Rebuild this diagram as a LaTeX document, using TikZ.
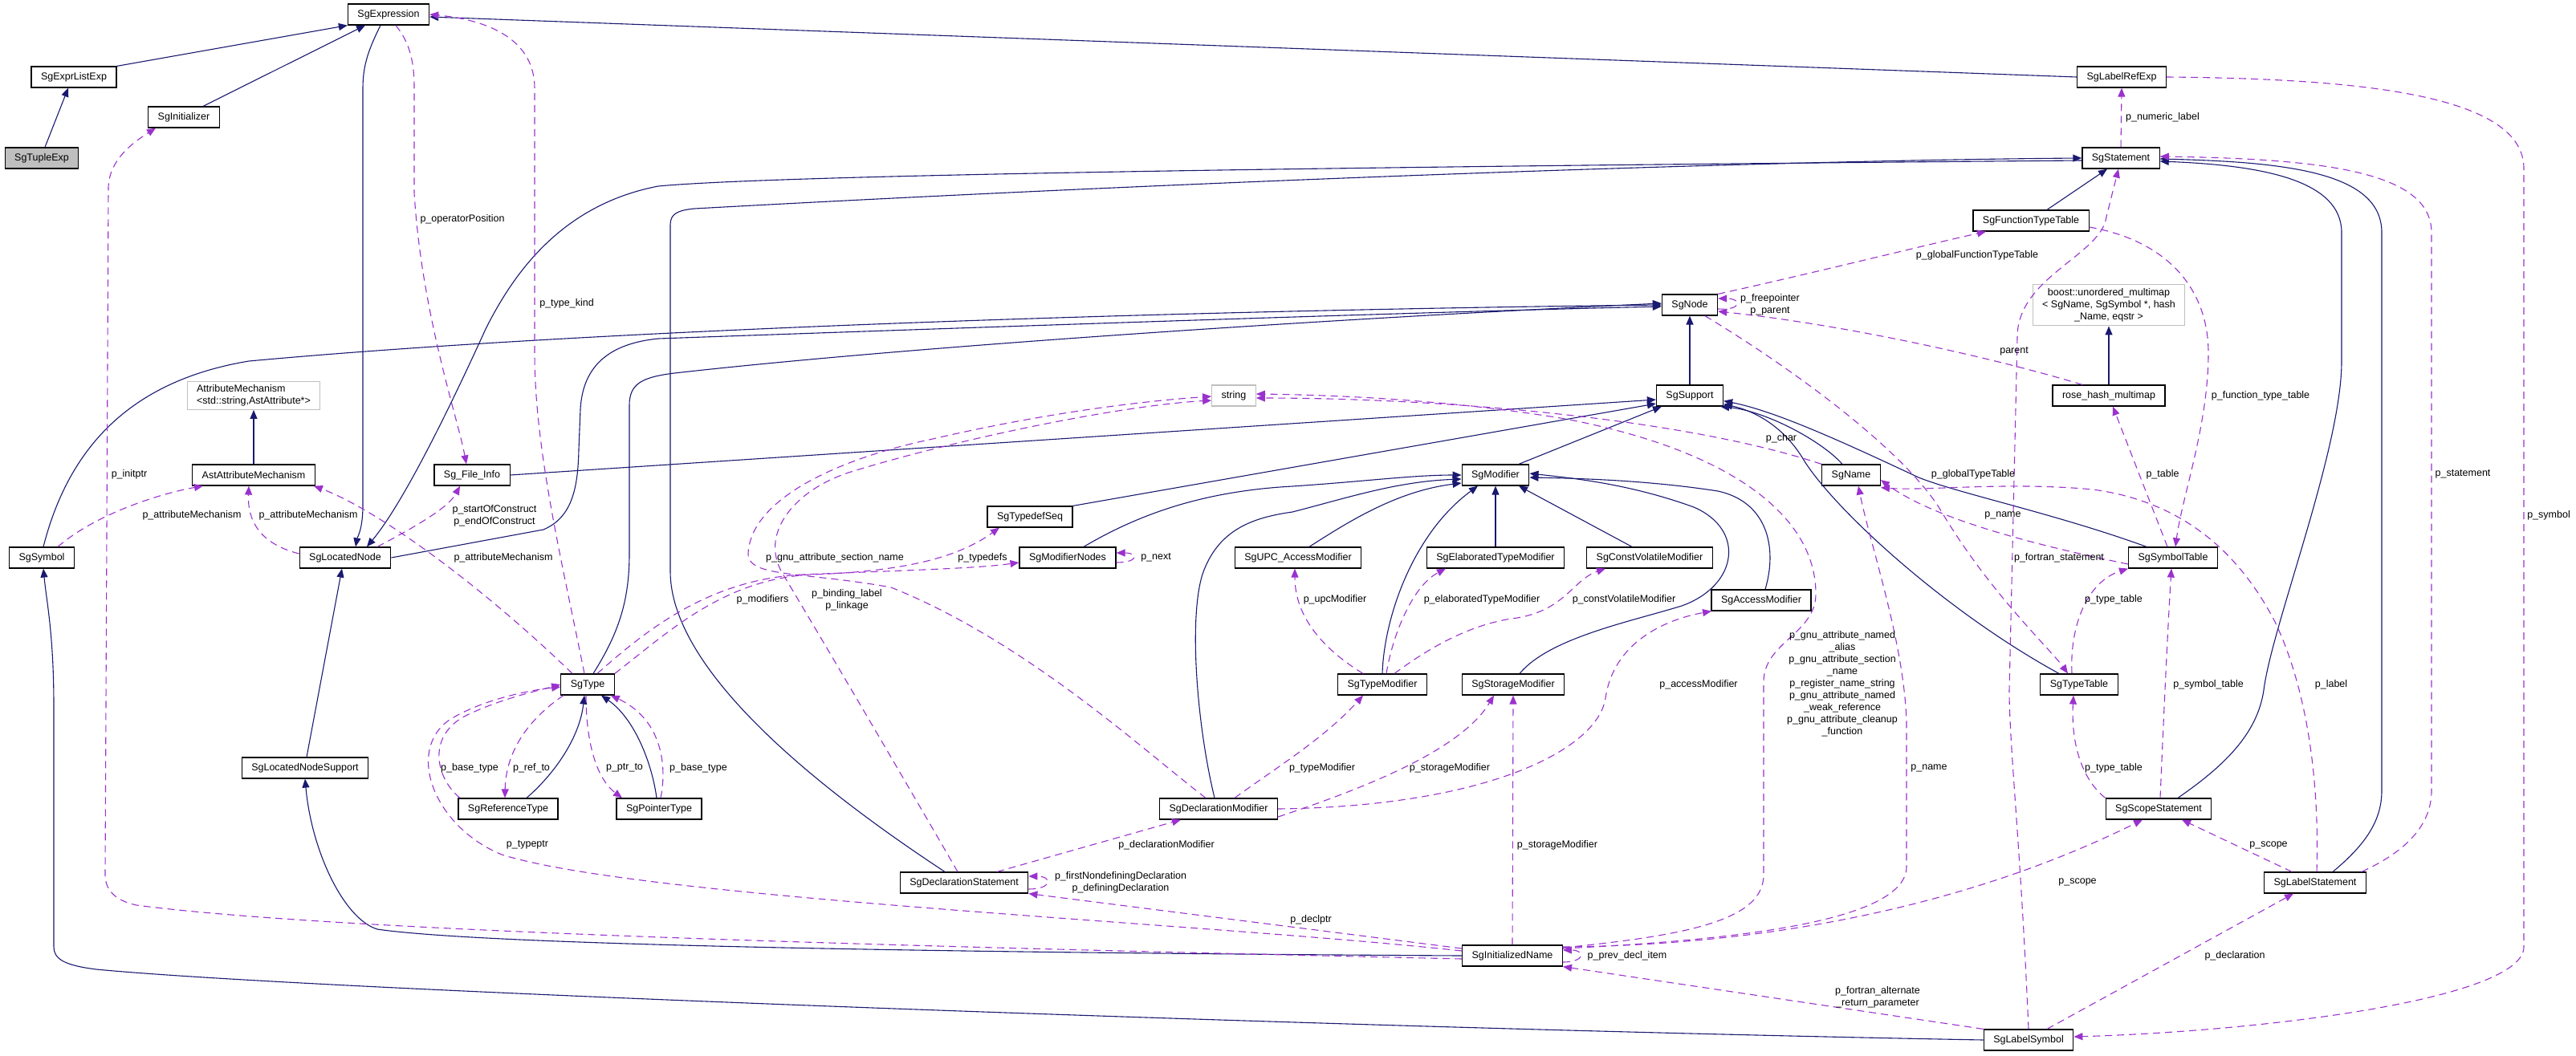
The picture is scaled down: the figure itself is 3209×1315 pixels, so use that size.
\documentclass[tikz,border=0pt]{standalone}
\usepackage{fontspec}
\setmainfont{Liberation Sans}
\usetikzlibrary{arrows.meta}
\definecolor{inhcol}{HTML}{191970}
\definecolor{refcol}{HTML}{9A32CD}
\definecolor{extgray}{HTML}{BFBFBF}

\begin{document}
\begin{tikzpicture}[x=1pt, y=-1pt, >={Triangle[length=11pt,width=9pt]},
  cls/.style={draw=black, line width=1.2pt, fill=white, minimum height=26pt,
    inner xsep=12pt, inner ysep=2pt, font=\fontsize{12.5}{15}\selectfont},
  ext/.style={cls, draw=extgray, align=center},
  inh/.style={draw=inhcol, line width=1.1pt, ->},
  ref/.style={draw=refcol, line width=1.1pt, dash pattern=on 9pt off 6pt, ->},
  lbl/.style={font=\fontsize{12.5}{15}\selectfont, inner sep=0pt, align=center}]

\useasboundingbox (0,0) rectangle (3209,1315);

% Classes
\node[cls] (expression) at (484,18) {SgExpression};
\node[cls] (exprlist) at (92,96) {SgExprListExp};
\node[cls] (initializer) at (229,146) {SgInitializer};
\node[cls, fill=extgray] (tuple) at (52,197) {SgTupleExp};
\node[cls] (labelref) at (2643,96) {SgLabelRefExp};
\node[cls] (statement) at (2642,197) {SgStatement};
\node[cls] (functable) at (2530,275) {SgFunctionTypeTable};
\node[ext, inner ysep=5pt] (boostmap) at (2627,380) {boost::unordered\_multimap\\< SgName, SgSymbol *, hash\\\_Name, eqstr >};
\node[cls] (sgnode) at (2105,380) {SgNode};
\node[ext, align=left, inner ysep=4pt] (attrmech) at (316,493) {AttributeMechanism\\<std::string,AstAttribute*>};
\node[cls] (astattr) at (316,592) {AstAttributeMechanism};
\node[cls] (fileinfo) at (588,592) {Sg\_File\_Info};
\node[cls] (symbol) at (52,695) {SgSymbol};
\node[cls] (located) at (430,695) {SgLocatedNode};
\node[cls] (sgtype) at (732,853) {SgType};
\node[ext] (sgstring) at (1537,493) {string};
\node[cls] (typedefseq) at (1283,644) {SgTypedefSeq};
\node[cls] (modnodes) at (1330,695) {SgModifierNodes};
\node[cls] (upcmod) at (1617,695) {SgUPC\_AccessModifier};
\node[cls] (support) at (2105,493) {SgSupport};
\node[cls] (modifier) at (1863,592) {SgModifier};
\node[cls] (sgname) at (2306,592) {SgName};
\node[cls] (elabmod) at (1863,695) {SgElaboratedTypeModifier};
\node[cls] (cvmod) at (2055,695) {SgConstVolatileModifier};
\node[cls] (accessmod) at (2194,748) {SgAccessModifier};
\node[cls] (typemod) at (1722,853) {SgTypeModifier};
\node[cls] (storagemod) at (1885,853) {SgStorageModifier};
\node[cls] (rosemap) at (2627,493) {rose\_hash\_multimap};
\node[cls] (symtable) at (2707,695) {SgSymbolTable};
\node[cls] (typetable) at (2590,853) {SgTypeTable};
\node[cls] (locsupport) at (380,957) {SgLocatedNodeSupport};
\node[cls] (reftype) at (633,1008) {SgReferenceType};
\node[cls] (ptrtype) at (821,1008) {SgPointerType};
\node[cls] (declstmt) at (1201,1100) {SgDeclarationStatement};
\node[cls] (declmod) at (1518,1008) {SgDeclarationModifier};
\node[cls] (initname) at (1884,1191) {SgInitializedName};
\node[cls] (scopestmt) at (2689,1008) {SgScopeStatement};
\node[cls] (labelstmt) at (2884,1100) {SgLabelStatement};
\node[cls] (labelsym) at (2527,1296) {SgLabelSymbol};

% Inheritance
\draw[inh] ([xshift=4pt]tuple.north) -- ([xshift=-7pt]exprlist.south);
\draw[inh] (exprlist.north east) -- (expression.south west);
\draw[inh] ([xshift=24pt]initializer.north) -- ([xshift=-29pt]expression.south);
\draw[inh] (labelref.west) -- ([yshift=-3pt]expression.east);
\draw[inh] ([xshift=-10pt]expression.south) .. controls (460,60) and (452,80) .. (452,110)
  -- (452,630) .. controls (452,660) and (445,670) .. ([xshift=13pt]located.north);
\draw[inh] ([yshift=-3pt]statement.west) .. controls (2000,205) and (1000,215) .. (820,232)
  .. controls (700,255) and (640,340) .. (605,410) .. controls (555,520) and (500,630) .. ([xshift=27pt]located.north);
\draw[inh] ([xshift=-24pt]declstmt.north) .. controls (1000,970) and (836,830) .. (835,713)
  -- (835,280) .. controls (835,266) and (845,262) .. (865,260) .. controls (1500,225) and (2200,200) .. (statement.west);
\draw[inh] (located.east) -- (677,660) .. controls (712,645) and (720,610) .. (721,560)
  -- (723,510) .. controls (726,455) and (760,428) .. (820,422) .. controls (1300,405) and (1800,388) .. ([yshift=-2pt]sgnode.west);
\draw[inh] ([xshift=2pt]symbol.north) .. controls (85,560) and (160,475) .. (310,450)
  .. controls (800,405) and (1600,385) .. (sgnode.west);
\draw[inh] ([xshift=7pt]sgtype.north) .. controls (770,790) and (784,750) .. (784,690)
  -- (784,505) .. controls (784,478) and (800,470) .. (840,465) .. controls (1150,430) and (1700,395) .. ([yshift=2pt]sgnode.west);
\draw[inh] (support.north) -- (sgnode.south);
\draw[inh] (astattr.north) -- (attrmech.south);
\draw[inh] ([xshift=2pt]locsupport.north) -- ([xshift=-4pt]located.south);
\draw[inh] (initname.west) .. controls (1300,1188) and (620,1180) .. (470,1158)
  .. controls (428,1145) and (388,1060) .. (locsupport.south);
\draw[inh] (fileinfo.east) -- ([yshift=-5pt]support.west);
\draw[inh] (typedefseq.north east) -- ([yshift=-10pt]support.west);
\draw[inh] ([xshift=20pt]modnodes.north) .. controls (1420,640) and (1500,612) .. (1610,606)
  .. controls (1700,600) and (1760,592) .. (modifier.west);
\draw[inh] ([xshift=-5pt]declmod.north) .. controls (1490,900) and (1480,760) .. (1500,710)
  .. controls (1520,660) and (1560,645) .. (1610,638) .. controls (1680,620) and (1740,600) .. ([yshift=-5pt]modifier.west);
\draw[inh] ([xshift=14pt]upcmod.north) .. controls (1680,650) and (1740,612) .. ([yshift=-10pt]modifier.west);
\draw[inh] ([xshift=29pt]modifier.north) -- ([xshift=-35pt]support.south);
\draw[inh] ([xshift=-11pt]sgname.north) .. controls (2270,550) and (2200,512) .. ([xshift=-4pt]support.south east);
\draw[inh] ([xshift=-25pt]typetable.north) .. controls (2420,760) and (2280,630) .. (2245,570)
  .. controls (2220,530) and (2185,512) .. ([yshift=3pt]support.south east);
\draw[inh] ([xshift=-33pt]symtable.north) .. controls (2560,640) and (2440,615) .. (2390,595)
  .. controls (2290,548) and (2210,512) .. ([yshift=7pt]support.south east);
\draw[inh] ([xshift=20pt]functable.north) -- ([xshift=-17pt]statement.south);
\draw[inh] ([xshift=24pt]scopestmt.north) .. controls (2770,955) and (2812,915) .. (2820,860)
  .. controls (2830,780) and (2917,560) .. (2917,450) -- (2917,290)
  .. controls (2917,225) and (2820,206) .. ([yshift=-4pt]statement.east);
\draw[inh] ([xshift=22pt]labelstmt.north) .. controls (2950,1050) and (2967,1020) .. (2967,985)
  -- (2967,290) .. controls (2967,215) and (2850,202) .. ([yshift=-1pt]statement.east);
\draw[inh] (rosemap.north) -- (boostmap.south);
\draw[inh] (elabmod.north) -- (modifier.south);
\draw[inh] ([xshift=-22pt]cvmod.north) -- ([xshift=29pt]modifier.south);
\draw[inh] (typemod.north) .. controls (1724,770) and (1760,665) .. ([xshift=-22pt]modifier.south);
\draw[inh] ([xshift=8pt]storagemod.north) .. controls (1930,795) and (2030,775) .. (2095,755)
  .. controls (2165,730) and (2175,660) .. (2110,632) .. controls (2030,603) and (1960,596) .. ([yshift=2pt]modifier.east);
\draw[inh] ([xshift=5pt]accessmod.north) .. controls (2215,680) and (2200,625) .. (2140,612)
  .. controls (2050,598) and (1960,596) .. ([yshift=-3pt]modifier.east);
\draw[inh] ([xshift=23pt]reftype.north) .. controls (690,965) and (722,920) .. ([xshift=-4pt]sgtype.south);
\draw[inh] ([xshift=-3pt]ptrtype.north) .. controls (812,950) and (790,895) .. ([xshift=17pt]sgtype.south);
\draw[inh] (labelsym.west) .. controls (1700,1282) and (400,1235) .. (120,1208)
  .. controls (80,1203) and (67,1195) .. (67,1180) -- (67,880)
  .. controls (67,790) and (58,750) .. ([xshift=2pt]symbol.south);

% Members
\draw[ref] ([yshift=-4pt]initname.west) .. controls (1300,1183) and (450,1165) .. (170,1128)
  .. controls (142,1122) and (131,1108) .. (131,1090) -- (135,235)
  .. controls (135,200) and (165,178) .. ([xshift=-35pt]initializer.south);
\draw[ref] ([xshift=9pt]expression.south) .. controls (512,55) and (516,80) .. (516,110)
  -- (516,240) .. controls (525,390) and (570,520) .. ([xshift=-7pt]fileinfo.north);
\draw[ref] ([xshift=-4pt]sgtype.north) .. controls (700,700) and (666,560) .. (666,440)
  -- (666,110) .. controls (666,50) and (610,25) .. (expression.east);
\draw[ref] ([xshift=20pt]symbol.north) .. controls (120,640) and (200,615) .. ([xshift=-63pt]astattr.south);
\draw[ref] ([yshift=5pt]located.west) .. controls (325,678) and (308,650) .. ([xshift=-6pt]astattr.south);
\draw[ref] ([xshift=-19pt]sgtype.north) .. controls (600,730) and (470,635) .. ([xshift=-2pt]astattr.south east);
\draw[ref] ([xshift=40pt]located.north) .. controls (530,650) and (560,630) .. ([xshift=-15pt]fileinfo.south);
\draw[ref] ([yshift=-5pt]sgnode.east) .. controls +(30,2) and +(30,0) .. ([yshift=8pt]sgnode.east);
\draw[ref] ([xshift=-33pt]rosemap.north) .. controls (2480,445) and (2300,405) .. ([yshift=-8pt]sgnode.east);
\draw[ref] (sgnode.north east) .. controls (2260,340) and (2400,305) .. ([xshift=-56pt]functable.south);
\draw[ref] (statement.north) -- (labelref.south);
\draw[ref] ([xshift=58pt]labelstmt.north) .. controls (2995,1062) and (3029,1030) .. (3029,985)
  -- (3029,290) .. controls (3029,215) and (2900,198) .. ([yshift=2pt]statement.east);
\draw[ref] (labelref.east) .. controls (2950,98) and (3144,120) .. (3144,210)
  -- (3144,1180) .. controls (3144,1245) and (2820,1285) .. ([yshift=4pt]labelsym.east);
\draw[ref] (labelsym.north) .. controls (2517,1050) and (2503,930) .. (2503,860)
  -- (2513,420) .. controls (2513,345) and (2618,318) .. (2624,270) -- ([xshift=-3pt]statement.south);
\draw[ref] ([yshift=-8pt]functable.east) .. controls (2700,300) and (2751,360) .. (2751,440)
  .. controls (2751,530) and (2718,620) .. ([xshift=3pt]symtable.north);
\draw[ref] ([xshift=-7pt]symtable.north) -- ([xshift=5pt]rosemap.south);
\draw[ref] ([xshift=19pt]sgnode.south) .. controls (2250,470) and (2380,570) .. (2420,640)
  .. controls (2480,740) and (2555,810) .. ([xshift=-14pt]typetable.north);
\draw[ref] ([yshift=-8pt]symtable.west) .. controls (2500,672) and (2400,640) .. ([yshift=-6pt]sgname.east);
\draw[ref] ([xshift=2pt]labelstmt.north) .. controls (2890,960) and (2870,850) .. (2834,775)
  .. controls (2790,690) and (2720,625) .. (2607,610) .. controls (2500,600) and (2400,612) .. ([yshift=-2pt]sgname.south east);
\draw[ref] ([yshift=9pt]initname.east) .. controls (2150,1172) and (2375,1150) .. (2375,1080)
  -- (2375,900) .. controls (2372,800) and (2330,680) .. ([xshift=9pt]sgname.south);
\draw[ref] (sgname.north west) .. controls (2100,522) and (1800,496) .. ([yshift=-3pt]sgstring.east);
\draw[ref] ([yshift=10pt]initname.east) .. controls (2110,1165) and (2197,1145) .. (2197,1090)
  -- (2197,850) .. controls (2197,800) and (2262,790) .. (2262,740)
  .. controls (2262,640) and (2150,560) .. (1950,522) .. controls (1800,497) and (1650,492) .. ([yshift=2pt]sgstring.east);
\draw[ref] ([xshift=-16pt]declmod.north) .. controls (1430,940) and (1280,800) .. (1110,732)
  .. controls (1000,712) and (932,720) .. (932,690) .. controls (935,620) and (1050,570) .. (1162,547)
  .. controls (1300,515) and (1420,500) .. ([yshift=-1pt]sgstring.west);
\draw[ref] ([xshift=-8pt]declstmt.north) .. controls (1120,960) and (1020,790) .. (975,715)
  .. controls (945,665) and (990,610) .. (1060,588) .. controls (1200,545) and (1400,505) .. ([yshift=-6pt]sgstring.west);
\draw[ref] ([xshift=12pt]sgtype.north) .. controls (800,790) and (880,722) .. (1000,716)
  .. controls (1150,710) and (1220,708) .. ([yshift=-6pt]modnodes.west);
\draw[ref] (sgtype.north east) .. controls (830,790) and (900,722) .. (1010,716)
  .. controls (1140,712) and (1200,690) .. ([xshift=-38pt]typedefseq.south);
\draw[ref] ([yshift=-6pt]modnodes.east) .. controls +(28,0) and +(28,0) .. ([yshift=6pt]modnodes.east);
\draw[ref] ([xshift=-24pt]typemod.north) .. controls (1650,810) and (1613,770) .. ([xshift=-4pt]upcmod.south);
\draw[ref] ([xshift=5pt]typemod.north) .. controls (1735,790) and (1760,730) .. ([xshift=-62pt]elabmod.south);
\draw[ref] ([xshift=15pt]typemod.north) .. controls (1790,800) and (1840,776) .. (1890,770)
  .. controls (1950,760) and (1960,722) .. ([xshift=-55pt]cvmod.south);
\draw[ref] (declmod.east) .. controls (1850,1005) and (1990,935) .. (2000,870)
  .. controls (2010,800) and (2075,772) .. ([xshift=-62pt]accessmod.south);
\draw[ref] ([xshift=20pt]declmod.north) .. controls (1585,960) and (1650,920) .. ([xshift=-24pt]typemod.south);
\draw[ref] ([yshift=-10pt]declmod.east) .. controls (1700,982) and (1820,935) .. ([xshift=-24pt]storagemod.south);
\draw[ref] (initname.north) -- (storagemod.south);
\draw[ref] ([xshift=41pt]declstmt.north) -- ([xshift=-47pt]declmod.south);
\draw[ref] ([yshift=-8pt]declstmt.east) .. controls +(30,0) and +(30,0) .. ([yshift=8pt]declstmt.east);
\draw[ref] ([yshift=9pt]initname.west) -- (declstmt.south east);
\draw[ref] ([yshift=6pt]initname.west) .. controls (1500,1150) and (800,1120) .. (625,1065)
  .. controls (540,1030) and (505,935) .. (560,897) .. controls (600,872) and (660,860) .. ([yshift=-3pt]sgtype.west);
\draw[ref] ([xshift=-60pt]reftype.north) .. controls (545,972) and (530,920) .. (578,893)
  .. controls (620,872) and (665,862) .. (sgtype.west);
\draw[ref] ([xshift=-30pt]sgtype.south) .. controls (660,895) and (630,935) .. ([xshift=-4pt]reftype.north);
\draw[ref] ([xshift=-2pt]sgtype.south) .. controls (730,930) and (745,972) .. ([xshift=-46pt]ptrtype.north);
\draw[ref] ([xshift=2pt]ptrtype.north) .. controls (832,950) and (822,895) .. ([xshift=-5pt]sgtype.south east);
\draw[ref] ([yshift=-8pt]initname.east) .. controls +(28,0) and +(28,0) .. ([yshift=7pt]initname.east);
\draw[ref] (labelsym.north west) -- (initname.south east);
\draw[ref] ([yshift=11pt]initname.east) .. controls (2200,1178) and (2450,1130) .. ([xshift=-20pt]scopestmt.south);
\draw[ref] ([xshift=-29pt]labelstmt.north) -- ([xshift=29pt]scopestmt.south);
\draw[ref] (scopestmt.north west) .. controls (2590,968) and (2580,920) .. ([xshift=-7pt]typetable.south);
\draw[ref] ([xshift=2pt]scopestmt.north) .. controls (2695,900) and (2700,790) .. ([xshift=-2pt]symtable.south);
\draw[ref] ([xshift=-9pt]typetable.north) .. controls (2578,780) and (2600,725) .. (symtable.south west);
\draw[ref] ([xshift=23pt]labelsym.north) -- ([xshift=-27pt]labelstmt.south);

% Member labels
\node[lbl] (lOperPos) at (576,273) {p\_operatorPosition};
\node[lbl] (lTypeKind) at (706,378) {p\_type\_kind};
\node[lbl] (lInitptr) at (161,591) {p\_initptr};
\node[lbl] (lAttrA) at (239,642) {p\_attributeMechanism};
\node[lbl] (lAttrB) at (384,642) {p\_attributeMechanism};
\node[lbl] (lConstruct) at (616,643) {p\_startOfConstruct\\p\_endOfConstruct};
\node[lbl] (lAttrC) at (627,695) {p\_attributeMechanism};
\node[lbl] (lSection) at (1040,695) {p\_gnu\_attribute\_section\_name};
\node[lbl] (lTypedefs) at (1224,695) {p\_typedefs};
\node[lbl] (lNext) at (1440,695) {p\_next};
\node[lbl] (lModifiers) at (950,747) {p\_modifiers};
\node[lbl] (lBinding) at (1055,748) {p\_binding\_label\\p\_linkage};
\node[lbl] (lChar) at (2219,546) {p\_char};
\node[lbl] (lUpc) at (1663,747) {p\_upcModifier};
\node[lbl] (lElab) at (1846,747) {p\_elaboratedTypeModifier};
\node[lbl] (lConstVol) at (2023,747) {p\_constVolatileModifier};
\node[lbl] (lAccess) at (2116,853) {p\_accessModifier};
\node[lbl] (lGnu) at (2295,852) {p\_gnu\_attribute\_named\\\_alias\\p\_gnu\_attribute\_section\\\_name\\p\_register\_name\_string\\p\_gnu\_attribute\_named\\\_weak\_reference\\p\_gnu\_attribute\_cleanup\\\_function};
\node[lbl] (lNameA) at (2403,957) {p\_name};
\node[lbl] (lGlobType) at (2458,591) {p\_globalTypeTable};
\node[lbl] (lNameB) at (2495,642) {p\_name};
\node[lbl] (lFortStmt) at (2565,695) {p\_fortran\_statement};
\node[lbl] (lTable) at (2694,591) {p\_table};
\node[lbl] (lFuncTab) at (2816,493) {p\_function\_type\_table};
\node[lbl] (lTypeTabA) at (2633,747) {p\_type\_table};
\node[lbl] (lSymTab) at (2751,853) {p\_symbol\_table};
\node[lbl] (lLabel) at (2904,853) {p\_label};
\node[lbl] (lStmt) at (3068,591) {p\_statement};
\node[lbl] (lSymbol) at (3175,642) {p\_symbol};
\node[lbl] (lNumLabel) at (2694,146) {p\_numeric\_label};
\node[lbl] (lGlobFunc) at (2463,318) {p\_globalFunctionTypeTable};
\node[lbl] (lParent) at (2509,438) {parent};
\node[lbl] (lFree) at (2205,380) {p\_freepointer\\p\_parent};
\node[lbl] (lTypeTabB) at (2633,957) {p\_type\_table};
\node[lbl] (lScopeA) at (2826,1053) {p\_scope};
\node[lbl] (lScopeB) at (2588,1099) {p\_scope};
\node[lbl] (lDecl) at (2784,1191) {p\_declaration};
\node[lbl] (lAltRet) at (2339,1243) {p\_fortran\_alternate\\\_return\_parameter};
\node[lbl] (lPrev) at (2027,1191) {p\_prev\_decl\_item};
\node[lbl] (lStorB) at (1940,1053) {p\_storageModifier};
\node[lbl] (lDeclptr) at (1633,1146) {p\_declptr};
\node[lbl] (lTypeMod) at (1647,957) {p\_typeModifier};
\node[lbl] (lStorA) at (1806,957) {p\_storageModifier};
\node[lbl] (lDeclMod) at (1453,1053) {p\_declarationModifier};
\node[lbl] (lDefining) at (1396,1100) {p\_firstNondefiningDeclaration\\p\_definingDeclaration};
\node[lbl] (lBaseA) at (585,957) {p\_base\_type};
\node[lbl] (lRefTo) at (662,957) {p\_ref\_to};
\node[lbl] (lPtrTo) at (778,957) {p\_ptr\_to};
\node[lbl] (lBaseB) at (870,957) {p\_base\_type};
\node[lbl] (lTypeptr) at (657,1053) {p\_typeptr};

\end{tikzpicture}
\end{document}
